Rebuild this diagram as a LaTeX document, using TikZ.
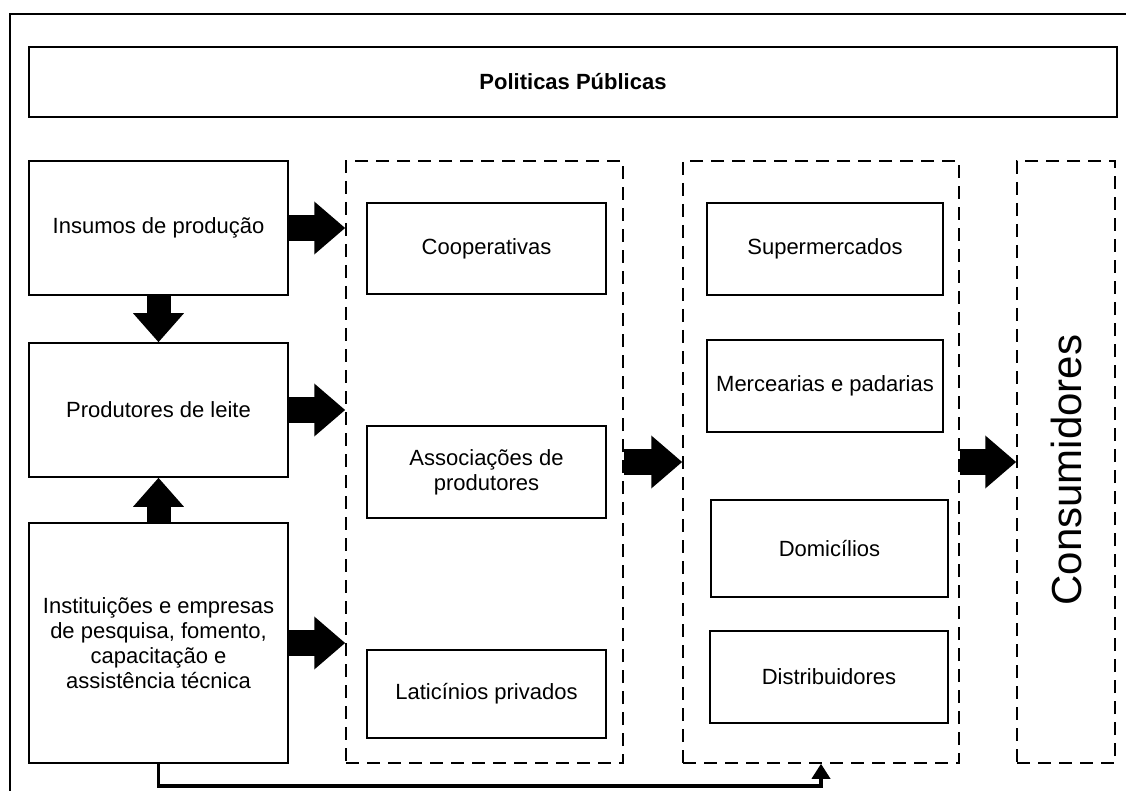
\documentclass[tikz,border=0pt]{standalone}
\usepackage{fontspec}
\setmainfont{Liberation Sans}
\usepackage{tikz}
\usetikzlibrary{arrows.meta}

\tikzset{
    box/.style={draw,line width=1.5pt,inner sep=2pt,align=center,
        font=\fontsize{22pt}{25pt}\selectfont},
    column/.style={draw,line width=1.5pt,dash pattern=on 13pt off 8pt},
    fat/.style={line width=26pt,-{Triangle[width=51pt,length=31pt]}},
    fatv/.style={line width=24pt,-{Triangle[width=49pt,length=29pt]}},
    feedback/.style={line width=3.5pt,-{Triangle[width=18pt,length=15pt]}}
}

\begin{document}
\begin{tikzpicture}[x=1pt,y=-1pt]

        % Picture size
        \useasboundingbox (0,0) rectangle (1126,791);
        \clip (0,0) rectangle (1126,791);

        % Outer frame (runs past the picture on the right and below)
        \draw[line width=1.5pt] (10,14) rectangle (1140,800);

        % Top bar
        \node[box,minimum width=1088pt,minimum height=70pt] (politicas) at (573,82) {\textbf{Politicas Públicas}};

        % Left column
        \node[box,minimum width=259pt,minimum height=134pt] (insumos) at (158.5,228) {Insumos de produção};
        \node[box,minimum width=259pt,minimum height=134pt] (produtores) at (158.5,410) {Produtores de leite};
        \node[box,minimum width=259pt,minimum height=240pt] (instituicoes) at (158.5,643)
            {Instituições e empresas\\de pesquisa, fomento,\\capacitação e\\assistência técnica};

        % Dashed groups
        \node[column,minimum width=277pt,minimum height=602pt] (industria) at (484.5,462) {};
        \node[column,minimum width=276pt,minimum height=602pt] (varejo) at (821,462) {};
        \node[column,minimum width=98pt,minimum height=602pt] (consumo) at (1066,462) {};

        % Processing
        \node[box,minimum width=239pt,minimum height=91pt] (cooperativas) at (486.5,248.5) {Cooperativas};
        \node[box,minimum width=239pt,minimum height=92pt] (associacoes) at (486.5,472) {Associações de\\produtores};
        \node[box,minimum width=239pt,minimum height=88pt] (laticinios) at (486.5,694) {Laticínios privados};

        % Retail
        \node[box,minimum width=236pt,minimum height=92pt] (supermercados) at (825,249) {Supermercados};
        \node[box,minimum width=236pt,minimum height=92pt] (mercearias) at (825,386) {Mercearias e padarias};
        \node[box,minimum width=237pt,minimum height=97pt] (domicilios) at (829.5,548.5) {Domicílios};
        \node[box,minimum width=238pt,minimum height=92pt] (distribuidores) at (829,677) {Distribuidores};

        % Consumers
        \node[rotate=90,font=\fontsize{42pt}{46pt}\selectfont] (consumidores) at (1066,470) {Consumidores};

        % Flows
        \draw[fatv] (insumos.south) -- (produtores.north);
        \draw[fatv] (instituicoes.north) -- (produtores.south);
        \draw[fat] (insumos.east) -- (insumos.east -| industria.west);
        \draw[fat] (produtores.east) -- (produtores.east -| industria.west);
        \draw[fat] (instituicoes.east) -- (instituicoes.east -| industria.west);
        \draw[fat] (industria.east) -- (varejo.west);
        \draw[fat] (varejo.east) -- (consumo.west);

        % Direct line to retail
        \draw[feedback] (instituicoes.south) -- ++(0,22) -| (varejo.south);

\end{tikzpicture}
\end{document}
